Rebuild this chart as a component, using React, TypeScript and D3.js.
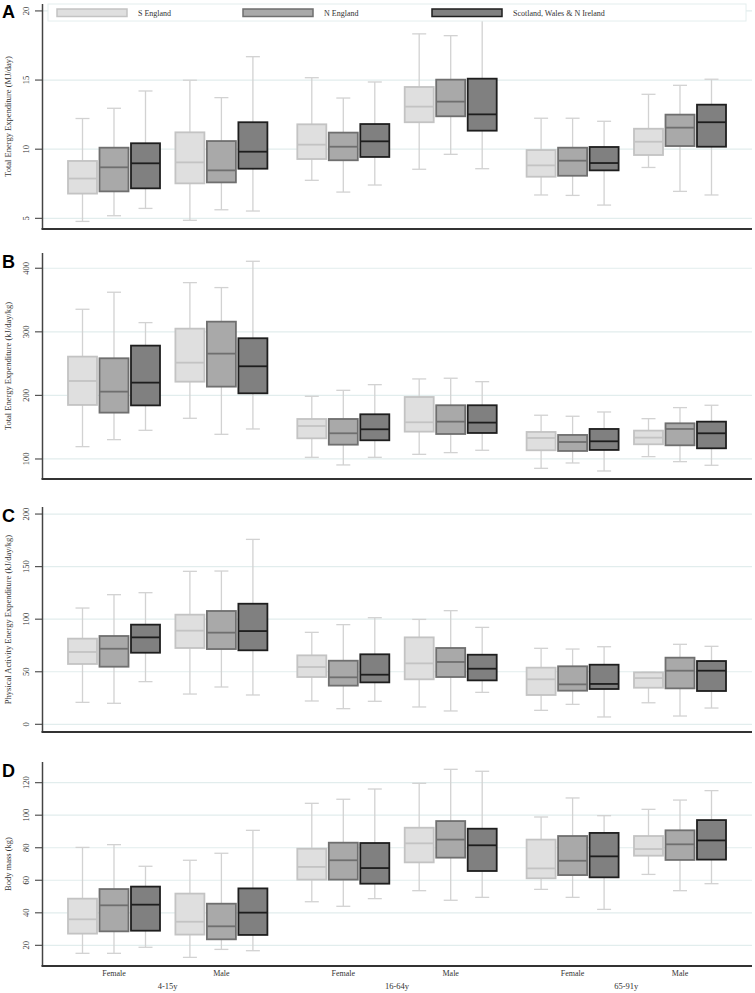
import React from "react";
import * as d3 from "d3";

// ---------- data ----------
const sexLabels = ["Female", "Male", "Female", "Male", "Female", "Male"];
const ageGroups = ["4-15y", "16-64y", "65-91y"];
const regions = ["S England", "N England", "Scotland, Wales & N Ireland"];
// slot positions of the six categories (female/male within age groups)
const slotPos = [0, 1, 2.135, 3.135, 4.27, 5.27];

// stats: [lower whisker, q1, median, q3, upper whisker]
const teeMJ_S = [[4.78, 6.79, 7.88, 9.15, 12.22], [4.86, 7.53, 9.05, 11.22, 14.99], [7.75, 9.29, 10.33, 11.8, 15.17], [8.55, 11.95, 13.08, 14.5, 18.34], [6.69, 8.01, 8.83, 9.94, 12.24], [8.68, 9.58, 10.54, 11.48, 13.97]];
const teeMJ_N = [[5.19, 6.95, 8.69, 10.11, 12.96], [5.62, 7.6, 8.47, 10.59, 13.73], [6.9, 9.2, 10.18, 11.2, 13.7], [9.63, 12.38, 13.44, 15.03, 18.21], [6.66, 8.08, 9.17, 10.11, 12.24], [6.95, 10.23, 11.56, 12.5, 14.62]];
const teeMJ_SW = [[5.72, 7.17, 8.98, 10.43, 14.21], [5.53, 8.59, 9.82, 11.95, 16.69], [7.41, 9.44, 10.57, 11.82, 14.86], [8.59, 11.34, 12.52, 15.1, 20.0], [5.96, 8.47, 9.0, 10.16, 12.02], [6.69, 10.18, 11.95, 13.22, 15.06]];

const teeKg_S = [[119.4, 185, 222.7, 261, 335.5], [164, 221.6, 251.5, 305, 377.4], [102.6, 132.5, 151.9, 162.9, 198.6], [107.3, 143, 157.7, 197.5, 225.9], [85.3, 113.7, 133, 142.5, 168.8], [103.7, 123.1, 133.6, 144.6, 163.4]];
const teeKg_N = [[130.4, 172.9, 205.9, 258.4, 362.3], [138.8, 213.8, 265.7, 316, 369.6], [90.6, 122.5, 140.4, 162.9, 208], [110, 139.3, 158.7, 184.5, 227], [93.7, 112.6, 126.7, 137.8, 167.2], [95.8, 121.5, 147.2, 156.1, 180.8]];
const teeKg_SW = [[145.1, 184.3, 220.1, 278.3, 314.5], [147.2, 203.3, 245.8, 289.9, 411], [102.6, 129.4, 146.7, 170.3, 216.9], [113.7, 140.9, 157.2, 184.5, 221.6], [81.1, 114.2, 127.8, 147.2, 173.9], [90.1, 116.8, 140.4, 158.7, 184.5]];

const paee_S = [[20.9, 57.4, 68.8, 81.5, 110.6], [28.8, 72.6, 89.1, 104.3, 145.5], [22.2, 45, 54.5, 65.6, 87.5], [16.5, 42.8, 58, 82.7, 99.8], [13.3, 27.9, 42.8, 53.9, 72.3], [20.5, 34.8, 44, 49.4, 49.4]];
const paee_N = [[20, 54.8, 71.9, 84, 123.3], [35.5, 71.6, 87.2, 107.8, 145.8], [14.9, 36.8, 44.7, 60.5, 94.8], [12.7, 45, 59.3, 72.6, 108.1], [19, 32, 38, 55.2, 71.6], [7.9, 34.2, 51, 63.4, 76.1]];
const paee_SW = [[40.6, 68.1, 82.7, 94.8, 125.2], [27.9, 70.4, 88.7, 114.7, 175.9], [21.9, 39.9, 47.2, 66.6, 101.4], [30.4, 41.8, 52.9, 66.2, 92.2], [7, 33.6, 38.4, 56.7, 73.8], [15.5, 31.7, 51, 60.2, 74.2]];

const mass_S = [[15.1, 27.2, 36, 48.7, 80.2], [12.6, 26.6, 34.5, 51.8, 72.3], [46.8, 60.4, 68.2, 79.4, 107.3], [53.6, 71, 82.7, 92.3, 119.6], [54.4, 61.2, 67.3, 85, 98.9], [63.6, 75.1, 79.2, 87.2, 103.6]];
const mass_N = [[15.1, 28.6, 44.6, 54.6, 81.9], [17.5, 23.7, 31.7, 45.6, 76.6], [44, 60.4, 72.3, 83.1, 109.8], [47.7, 73.9, 85, 96.4, 128.2], [49.5, 63.2, 72, 87.2, 110.6], [53.6, 72.5, 82.1, 90.7, 109.3]];
const mass_SW = [[18.8, 29, 45, 56.1, 68.6], [16.7, 26.4, 40.1, 55, 90.7], [48.7, 57.9, 67.5, 82.9, 116.1], [49.5, 65.7, 81.5, 91.7, 127], [42.1, 61.8, 74.7, 89.1, 99.7], [57.9, 72.7, 84.5, 97, 115.1]];

const ticksA = [5, 10, 15, 20];
const ticksB = [100, 200, 300, 400];
const ticksC = [0, 50, 100, 150, 200];
const ticksD = [20, 40, 60, 80, 100, 120];

// ---------- styles ----------
const fills = ["#dfdfdf", "#a9a9a9", "#808080"];
const strokes = ["#c3c3c3", "#6f6f6f", "#1e1e1e"];
const whiskerColor = "#d2d2d2";
const gridColor = "#e2eded";
const serif = "'Liberation Serif', 'Times New Roman', serif";

const panels = [
  { letter: "A", title: "Total Energy Expenditure (MJ/day)", domain: [4.23, 20.5], range: [229, 4], ticks: ticksA, series: [teeMJ_S, teeMJ_N, teeMJ_SW], letterY: 18 },
  { letter: "B", title: "Total Energy Expenditure (kJ/day/kg)", domain: [68.5, 424], range: [479, 253], ticks: ticksB, series: [teeKg_S, teeKg_N, teeKg_SW], letterY: 268 },
  { letter: "C", title: "Physical Activity Energy Expenditure (kJ/day/kg)", domain: [-7.3, 206.7], range: [732, 507], ticks: ticksC, series: [paee_S, paee_N, paee_SW], letterY: 522 },
  { letter: "D", title: "Body mass (kg)", domain: [7.3, 132.7], range: [966, 762], ticks: ticksD, series: [mass_S, mass_N, mass_SW], letterY: 777 },
];

const axisX = 42.5;
const plotRight = 752;
const x = d3.scaleLinear().domain([0, 5.27]).range([114, 680]);
const offset = d3.scaleLinear().domain([-1, 1]).range([-31.5, 31.5]);
const boxW = 29;
const capW = 14;

function Panel({ p }: { p: any }) {
  const y = d3.scaleLinear().domain(p.domain).range(p.range);
  const [bottom, top] = p.range;
  const mid = (bottom + top) / 2;
  return (
    <g>
      <text x={2} y={p.letterY} fontFamily="'Liberation Sans', Arial, sans-serif" fontWeight="bold" fontSize={18} fill="#000">{p.letter}</text>
      {p.ticks.map((t: number) => (
        <g key={t}>
          <line x1={axisX} x2={plotRight} y1={y(t)} y2={y(t)} stroke={gridColor} strokeWidth={1.2} />
          <line x1={35} x2={axisX} y1={y(t)} y2={y(t)} stroke="#555" strokeWidth={1.2} />
          <text transform={`translate(26,${y(t)}) rotate(-90)`} textAnchor="middle" dominantBaseline="central" fontFamily={serif} fontSize={8.5} fill="#333">{t}</text>
        </g>
      ))}
      <text transform={`translate(8,${mid}) rotate(-90)`} textAnchor="middle" dominantBaseline="central" fontFamily={serif} fontSize={8.5} fill="#333">{p.title}</text>
      {p.series.map((ser: number[][], si: number) =>
        ser.map((s: number[], ci: number) => {
          const cx = x(slotPos[ci]) + offset(si - 1);
          const [lo, q1, med, q3, hi] = s;
          return (
            <g key={`${si}-${ci}`}>
              <line x1={cx} x2={cx} y1={y(lo)} y2={y(hi)} stroke={whiskerColor} strokeWidth={1.3} />
              <line x1={cx - capW / 2} x2={cx + capW / 2} y1={y(lo)} y2={y(lo)} stroke={whiskerColor} strokeWidth={1.3} />
              <line x1={cx - capW / 2} x2={cx + capW / 2} y1={y(hi)} y2={y(hi)} stroke={whiskerColor} strokeWidth={1.3} />
            </g>
          );
        })
      )}
      {p.series.map((ser: number[][], si: number) =>
        ser.map((s: number[], ci: number) => {
          const cx = x(slotPos[ci]) + offset(si - 1);
          const [, q1, med, q3] = s;
          return (
            <g key={`b${si}-${ci}`}>
              <rect x={cx - boxW / 2} y={y(q3)} width={boxW} height={y(q1) - y(q3)} fill={fills[si]} stroke={strokes[si]} strokeWidth={1.8} />
              <line x1={cx - boxW / 2} x2={cx + boxW / 2} y1={y(med)} y2={y(med)} stroke={strokes[si]} strokeWidth={1.8} />
            </g>
          );
        })
      )}
      <line x1={axisX} x2={axisX} y1={top} y2={bottom} stroke="#444" strokeWidth={1.5} />
      <line x1={axisX - 1} x2={plotRight} y1={bottom} y2={bottom} stroke="#333" strokeWidth={2} />
    </g>
  );
}

const legendSwatchX = [57, 243, 432];

export default function App() {
  return (
    <svg width={755} height={993} style={{ position: "absolute", left: 0, top: 0, background: "#fff" }}>
      <rect x={0} y={0} width={755} height={993} fill="#fff" />
      {panels.map((p) => <Panel key={p.letter} p={p} />)}
      {/* legend */}
      <rect x={48} y={4} width={698} height={17} fill="#fff" stroke="#e4eeee" strokeWidth={1} />
      {regions.map((r, i) => (
        <g key={r}>
          <rect x={legendSwatchX[i]} y={9} width={70} height={7.5} fill={fills[i]} stroke={strokes[i]} strokeWidth={1.5} />
          <text x={legendSwatchX[i] + 81} y={16} fontFamily={serif} fontSize={8} fill="#333">{r}</text>
        </g>
      ))}
      {/* x labels */}
      {sexLabels.map((s, i) => (
        <text key={i} x={x(slotPos[i])} y={976} textAnchor="middle" fontFamily={serif} fontSize={8} fill="#333">{s}</text>
      ))}
      {ageGroups.map((a, i) => (
        <text key={a} x={(x(slotPos[2 * i]) + x(slotPos[2 * i + 1])) / 2} y={989} textAnchor="middle" fontFamily={serif} fontSize={8.5} fill="#333">{a}</text>
      ))}
    </svg>
  );
}
